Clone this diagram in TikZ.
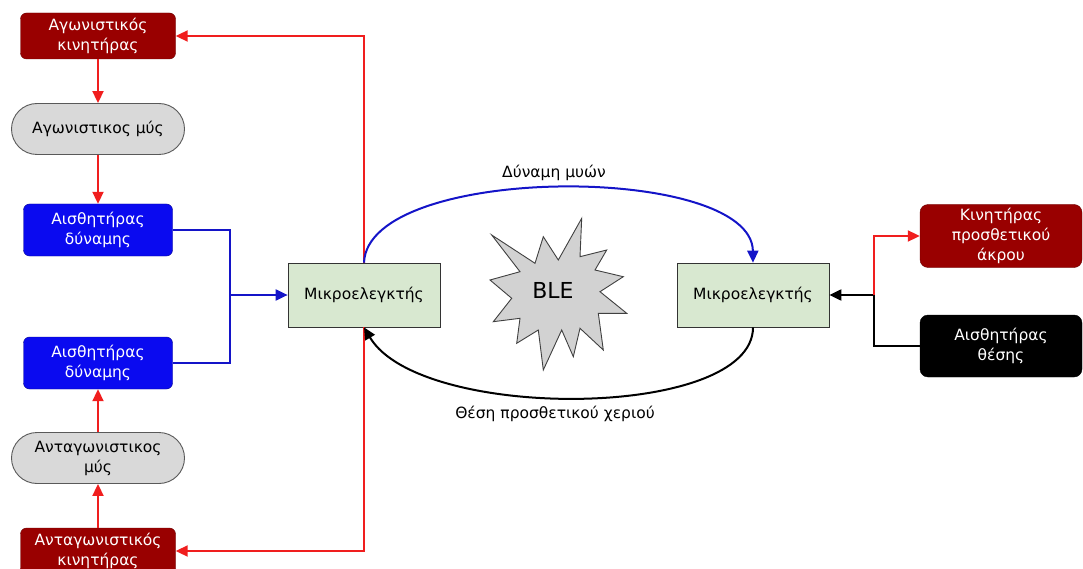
\documentclass[tikz,border=0pt]{standalone}
\usepackage{fontspec}
\setmainfont{DejaVu Sans}
\usetikzlibrary{arrows.meta,shapes.misc}

\definecolor{motorred}{RGB}{153,0,0}
\definecolor{sensorblue}{RGB}{10,10,240}
\definecolor{musclegray}{RGB}{217,217,217}
\definecolor{mcugreen}{RGB}{216,232,208}
\definecolor{wirered}{RGB}{240,30,30}
\definecolor{wireblue}{RGB}{20,20,200}
\definecolor{stargray}{RGB}{210,210,210}

\tikzset{
  txt/.style={font=\fontsize{15.5}{20}\selectfont, align=center, inner sep=2pt},
  motor/.style={txt, rounded corners=6pt, fill=motorred, draw=motorred!70!black,
    text=white, minimum width=155pt, minimum height=46pt},
  muscle/.style={txt, rounded rectangle, fill=musclegray, draw=black!65,
    line width=0.9pt, minimum width=177pt, minimum height=51pt},
  forcesensor/.style={txt, rounded corners=6pt, fill=sensorblue, draw=sensorblue!60!black,
    text=white, minimum width=149pt, minimum height=52pt},
  mcu/.style={txt, fill=mcugreen, draw=black!80, line width=0.7pt,
    minimum width=152pt, minimum height=64pt},
  prosmotor/.style={txt, rounded corners=8pt, fill=motorred, draw=motorred!70!black,
    text=white, minimum width=162pt, minimum height=63pt},
  possensor/.style={txt, rounded corners=8pt, fill=black, draw=black,
    text=white, minimum width=162pt, minimum height=62pt},
  tip/.style={-{Triangle[length=12pt,width=11pt]}},
  redwire/.style={draw=wirered, line width=2pt},
  bluewire/.style={draw=wireblue, line width=2pt},
  blackwire/.style={draw=black, line width=2pt},
  lbl/.style={font=\fontsize{15.5}{18}\selectfont, inner sep=1pt},
}

\begin{document}
\begin{tikzpicture}[x=1pt,y=-1pt]
\useasboundingbox (0,0) rectangle (1083,569);
\clip (0,0) rectangle (1083,569);

% left column: agonist chain, force sensors, antagonist chain
\node[motor]       (agmot)  at (98,36)   {Αγωνιστικός\\κινητήρας};
\node[muscle]      (agmus)  at (98,129)  {Αγωνιστικος μύς};
\node[forcesensor] (fsA)    at (98,230)  {Αισθητήρας\\δύναμης};
\node[forcesensor] (fsB)    at (98,363)  {Αισθητήρας\\δύναμης};
\node[muscle]      (antmus) at (98,458)  {Ανταγωνιστικος\\μύς};
\node[motor]       (antmot) at (98,551)  {Ανταγωνιστικός\\κινητήρας};

% the two microcontrollers
\node[mcu] (mcuL) at (364,295) {Μικροελεγκτής};
\node[mcu] (mcuR) at (753,295) {Μικροελεγκτής};

% right column: prosthesis motor and position sensor
\node[prosmotor] (pmot) at (1001,236) {Κινητήρας\\προσθετικού\\άκρου};
\node[possensor] (psens) at (1001,346) {Αισθητήρας\\θέσης};

% BLE burst between the two boards
\filldraw[fill=stargray, draw=black!75, line width=0.9pt, line join=miter]
  (491.7,235) -- (535,263.3) -- (543.3,236.7) -- (558.3,260) -- (581.7,218.3)
  -- (580,256.7) -- (606.7,250) -- (595,270) -- (623.3,276.7) -- (600,291.7)
  -- (626.7,313.3) -- (598.3,313.3) -- (603.3,350) -- (580,328.3)
  -- (573.3,356.7) -- (561.7,330) -- (543.3,370) -- (538.3,330)
  -- (516.7,343.3) -- (520,318.3) -- (493.3,321.7) -- (511.7,298.3)
  -- (490,280) -- (520,271.7) -- cycle;
\node[font=\fontsize{22}{24}\selectfont, inner sep=0pt] (ble) at (553,290) {BLE};

% chain arrows in the left column
\draw[redwire,tip] (agmot.south) -- (agmus.north);
\draw[redwire,tip] (agmus.south) -- (fsA.north);
\draw[redwire,tip] (antmot.north) -- (antmus.south);
\draw[redwire,tip] (antmus.north) -- (fsB.south);

% force sensors merge into the left microcontroller
\coordinate (fj) at (230,295);
\draw[bluewire] (fsA.east) -| (fj);
\draw[bluewire,tip] (fsB.east) -| (fj) -- (mcuL.west);

% left microcontroller drives both motors
\draw[redwire,tip] (mcuL.north) |- (agmot.east);
\draw[redwire,tip] (mcuL.south) |- (antmot.east);

% wireless links
\draw[bluewire,tip] (mcuL.north) .. controls (368,163) and (752,163) .. (mcuR.north);
\node[lbl] (lforce) at (554,173) {Δύναμη μυών};
\draw[blackwire,tip] (mcuR.south) .. controls (753,420) and (420,422) .. (mcuL.south);
\node[lbl] (lpos) at (555,414) {Θέση προσθετικού χεριού};

% right side wiring
\coordinate (rj) at (874,295);
\draw[blackwire,tip] (psens.west) -| (rj) -- (mcuR.east);
\draw[redwire,tip] (rj) |- (pmot.west);
\end{tikzpicture}
\end{document}
